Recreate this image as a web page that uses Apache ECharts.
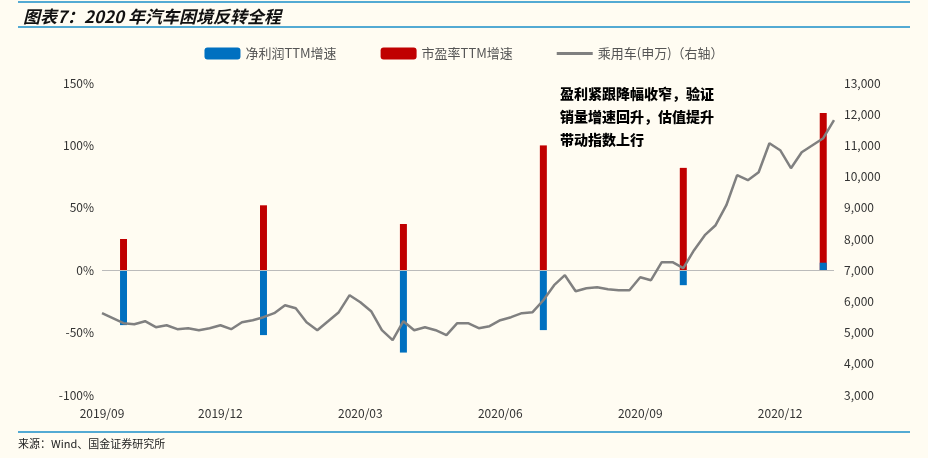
<!DOCTYPE html>
<html><head><meta charset="utf-8">
<script src="https://cdn.jsdelivr.net/npm/echarts@6/dist/echarts.min.js"></script>
<style>html,body{margin:0;padding:0;background:#fffcf2;}#c{width:928px;height:458px;}</style>
</head><body><div id="c"></div>
<script>
const tickLabels = {0:'2019/09',11:'2019/12',24:'2020/03',37:'2020/06',50:'2020/09',63:'2020/12'};
const carIndex = [5622,5462,5301,5269,5365,5173,5237,5109,5141,5077,5141,5237,5109,5333,5398,5494,5622,5878,5782,5333,5077,5365,5654,6199,5974,5686,5077,4757,5365,5077,5173,5077,4917,5301,5301,5141,5205,5398,5494,5622,5654,6038,6519,6840,6327,6423,6455,6391,6359,6359,6776,6679,7256,7256,7064,7641,8122,8442,9083,10045,9885,10141,11070,10846,10269,10782,11006,11230,11807];
const barIdx = [2,15,28,41,54,67];
const profitGrowth = [-44,-52,-66,-48,-12,6];
const peGrowth = [25,52,37,100,82,126];
const categories = carIndex.map((_,i)=>String(i));
const blue = categories.map(()=>null), red = categories.map(()=>null);
barIdx.forEach((k,j)=>{blue[k]=profitGrowth[j]; red[k]=peGrowth[j];});
const chart = echarts.init(document.getElementById('c'));
const lab = {color:'#333',fontSize:12,fontFamily:'Liberation Sans Narrow, Noto Sans CJK SC'};
chart.setOption({
  backgroundColor:'#fffcf2',
  animation:false,
  title:{text:'图表7：2020 年汽车困境反转全程',left:18,top:3,textStyle:{fontSize:17,fontWeight:'bold',fontStyle:'italic',color:'#111',fontFamily:'Noto Sans CJK SC'}},
  graphic:[
    {type:'line',shape:{x1:18,y1:2,x2:910,y2:2},style:{stroke:'#1a8fc9',lineWidth:1.5}},
    {type:'line',shape:{x1:18,y1:27,x2:910,y2:27},style:{stroke:'#1a8fc9',lineWidth:1.5}},
    {type:'line',shape:{x1:18,y1:432,x2:910,y2:432},style:{stroke:'#1a8fc9',lineWidth:1.5}},
    {type:'text',left:18,top:438,style:{text:'来源：Wind、国金证券研究所',fontSize:11,fill:'#222',fontFamily:'Noto Sans CJK SC'}},
    {type:'text',left:560,top:82,style:{text:'盈利紧跟降幅收窄，验证\n销量增速回升，估值提升\n带动指数上行',fontSize:14,fontWeight:900,lineHeight:23,fill:'#000',fontFamily:'Noto Sans CJK SC'}}
  ],
  legend:{top:42,left:'center',itemGap:44,itemWidth:36,itemHeight:12,textStyle:{fontSize:13,color:'#555',fontFamily:'Noto Sans CJK SC'},
    data:['净利润TTM增速','市盈率TTM增速',{name:'乘用车(申万)（右轴）',icon:'path://M0,5L36,5L36,8L0,8Z'}]},
  grid:{left:102,right:94,top:83,bottom:63},
  xAxis:{type:'category',data:categories,boundaryGap:false,axisLine:{show:false},axisTick:{show:false},
    axisLabel:{...lab,margin:12,interval:0,formatter:(v,i)=>tickLabels[i]||''}},
  yAxis:[
    {type:'value',min:-100,max:150,interval:50,splitLine:{show:false},axisLine:{show:false},axisTick:{show:false},
      axisLabel:{...lab,margin:8,formatter:v=>v+'%'}},
    {type:'value',min:3000,max:13000,interval:1000,splitLine:{show:false},axisLine:{show:false},axisTick:{show:false},
      axisLabel:{...lab,margin:10,formatter:v=>v.toLocaleString('en-US')}}
  ],
  series:[
    {name:'市盈率TTM增速',type:'bar',data:red,barWidth:7,barGap:'-100%',itemStyle:{color:'#c00000'},
      markLine:{silent:true,symbol:'none',label:{show:false},lineStyle:{color:'#bbb',type:'solid',width:1},data:[{yAxis:0}]}},
    {name:'净利润TTM增速',type:'bar',data:blue,barWidth:7,barGap:'-100%',itemStyle:{color:'#0070c0'}},
    {name:'乘用车(申万)（右轴）',type:'line',yAxisIndex:1,data:carIndex,symbol:'none',lineStyle:{color:'#808080',width:2.5},itemStyle:{color:'#808080'},z:5}
  ]
});
</script></body></html>
